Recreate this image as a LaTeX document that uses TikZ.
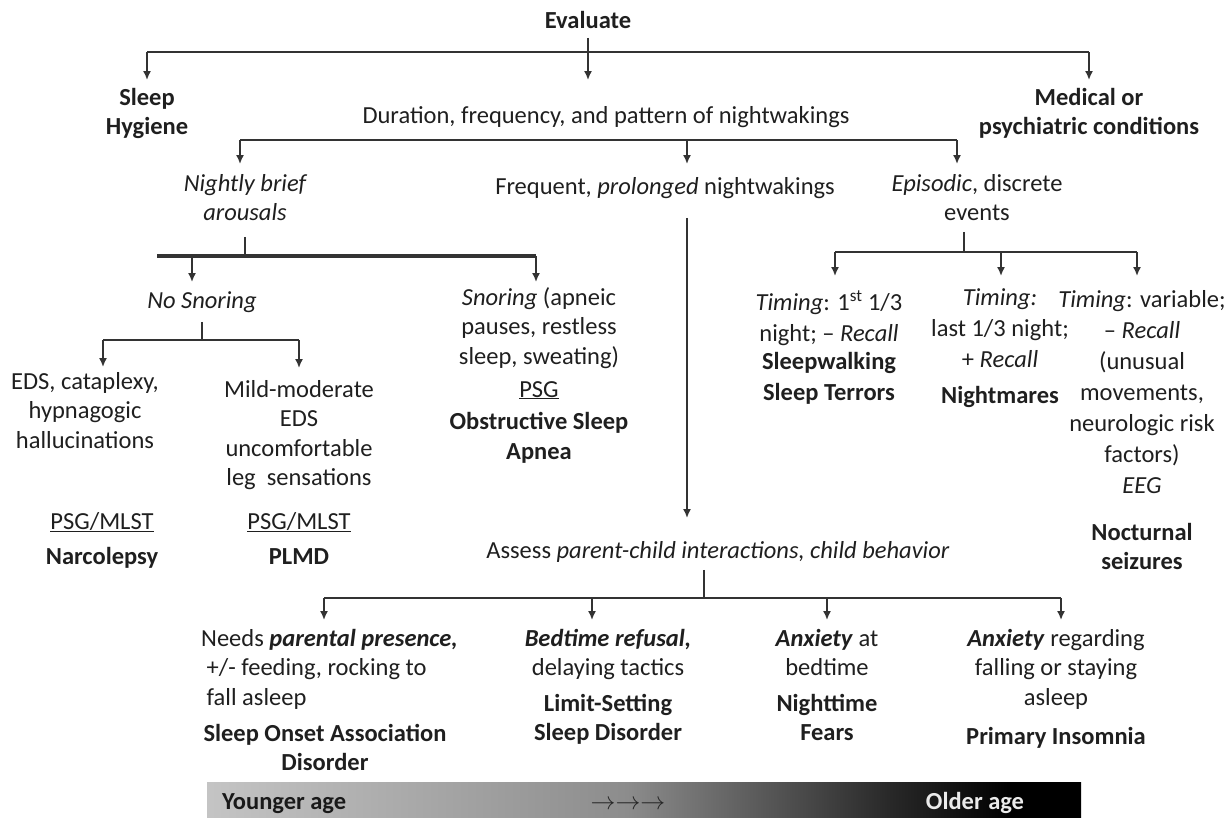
\documentclass[tikz,border=0pt]{standalone}
\usepackage{fontspec}
\setmainfont{Carlito}
\usetikzlibrary{arrows.meta}

% grey-to-black age band at the bottom (path is mapped onto 25bp--75bp)
\pgfdeclarehorizontalshading{agebar}{100bp}{color(0bp)=(black!23); color(25bp)=(black!23); color(49bp)=(black!45); color(64bp)=(black!84); color(71bp)=(black); color(100bp)=(black)}

\tikzset{
  lbl/.style={align=center, inner sep=0pt, anchor=north, text=black!88,
    font=\fontsize{24.5}{29.5}\selectfont, execute at begin node=\strut},
  res/.style={lbl, font=\fontsize{24.5}{29.5}\selectfont\bfseries},
  wide/.style={font=\fontsize{24.5}{31}\selectfont},
  link/.style={draw=black!80, line width=1.6pt},
  arr/.style={link, ->, >={Latex[length=9pt,width=8pt]}},
  agetxt/.style={inner sep=0pt, font=\fontsize{24.5}{29.5}\selectfont\bfseries},
}

\begin{document}
\begin{tikzpicture}[x=1pt, y=-1pt]
  \useasboundingbox (0,0) rectangle (1232,817);

  % first level
  \node[res] (eval) at (588,8) {Evaluate};
  \node[res] (hyg) at (147,88) {Sleep\\Hygiene};
  \node[lbl] (dur) at (606,103) {Duration, frequency, and pattern of nightwakings};
  \node[res] (med) at (1089,88) {Medical or\\psychiatric conditions};

  \coordinate (b0l) at (147,52);
  \coordinate (b0r) at (1089,52);
  \draw[link] (b0l) -- (b0r);
  \draw[arr, shorten >=8pt] (b0l) -- (b0l |- hyg.north);
  \draw[arr, shorten >=8pt] (b0r) -- (b0r |- med.north);
  \draw[arr, shorten >=23pt] (eval.south) -- (eval.south |- dur.north);

  % pattern of nightwakings
  \node[lbl, font=\fontsize{24.5}{29.5}\selectfont\itshape] (nba) at (245,174) {Nightly brief\\arousals};
  \node[lbl] (fpn) at (665,174) {Frequent, \textit{prolonged} nightwakings};
  \node[lbl] (epi) at (977,174) {\textit{Episodic}, discrete\\events};

  \coordinate (b1l) at (240,140);
  \coordinate (b1m) at (687,140);
  \coordinate (b1r) at (957,140);
  \draw[link] (b1l) -- (b1r);
  \foreach \c/\n in {b1l/nba, b1m/fpn, b1r/epi}
    \draw[arr, shorten >=10pt] (\c) -- (\c |- \n.north);

  % brief arousals
  \node[lbl] (nos) at (202,288) {\textit{No Snoring}};
  \node[lbl] (sno) at (539,287) {\textit{Snoring} (apneic\\pauses, restless\\sleep, sweating)};
  \node[lbl] (osa) at (539,381) {\underline{PSG}\\[3pt]\textbf{Obstructive Sleep}\\\textbf{Apnea}};

  \coordinate (tb) at (245,256);
  \coordinate (tb1) at (192,256);
  \coordinate (tb2) at (536,256);
  \draw[link, shorten <=7pt] (nba.south) -- (tb);
  \draw[link, line width=3.2pt] (157,256) -- (tb2);
  \draw[arr, shorten >=6pt] (tb1) -- (tb1 |- nos.north);
  \draw[arr, shorten >=5pt] (tb2) -- (tb2 |- sno.north);

  \node[lbl] (eds) at (85,372) {EDS, cataplexy,\\hypnagogic\\hallucinations};
  \node[lbl] (mild) at (299,380) {Mild-moderate\\EDS\\uncomfortable\\leg\ \ sensations};
  \node[lbl] (narc) at (102,512) {\underline{PSG/MLST}\\[6pt]\textbf{Narcolepsy}};
  \node[lbl] (plmd) at (299,512) {\underline{PSG/MLST}\\[6pt]\textbf{PLMD}};

  \coordinate (nb) at (202,340);
  \coordinate (nbl) at (103,340);
  \coordinate (nbr) at (299,340);
  \draw[link, shorten <=4pt] (nos.south) -- (nb);
  \draw[link] (nbl) -- (nbr);
  \draw[arr, shorten >=5pt] (nbl) -- (nbl |- eds.north);
  \draw[arr, shorten >=12pt] (nbr) -- (nbr |- mild.north);

  % episodic events
  \node[lbl, wide] (t1) at (829,290) {\textit{Timing}: 1\textsuperscript{st} 1/3\\night; -- \textit{Recall}};
  \node[res, wide, font=\fontsize{24.5}{31}\selectfont\bfseries] (sw) at (829,352) {Sleepwalking\\Sleep Terrors};
  \node[lbl, wide] (t2) at (1000,288) {\textit{Timing:}\\last 1/3 night;\\+ \textit{Recall}};
  \node[res] (nm) at (1000,383) {Nightmares};
  \node[lbl, wide] (t3) at (1142,290) {\textit{Timing}: variable;\\-- \textit{Recall}\\(unusual\\movements,\\neurologic risk\\factors)\\\textit{EEG}};
  \node[res] (noc) at (1142,523) {Nocturnal\\seizures};

  \coordinate (eb) at (964,252);
  \coordinate (ebl) at (835,252);
  \coordinate (ebm) at (1001,252);
  \coordinate (ebr) at (1137,252);
  \draw[link, shorten <=2pt] (eb |- epi.south) -- (eb);
  \draw[link] (ebl) -- (ebr);
  \draw[arr, shorten >=14pt] (ebl) -- (ebl |- t1.north);
  \draw[arr, shorten >=12pt] (ebm) -- (ebm |- t2.north);
  \draw[arr, shorten >=14pt] (ebr) -- (ebr |- t3.north);

  % prolonged nightwakings
  \node[lbl] (assess) at (718,538) {Assess \textit{parent-child interactions, child behavior}};
  \draw[arr, shorten <=14pt, shorten >=20pt] (b1m |- fpn.south) -- (b1m |- assess.north);

  \node[lbl, anchor=north west, align=left] (needs) at (201,629) {Needs \textbf{\textit{parental presence,}}\\\ +/- feeding, rocking to\\\ fall asleep};
  \node[res] (soa) at (325,724) {Sleep Onset Association\\Disorder};
  \node[lbl] (bed) at (608,629) {\textbf{\textit{Bedtime refusal,}}\\delaying tactics};
  \node[res] (lim) at (608,694) {Limit-Setting\\Sleep Disorder};
  \node[lbl] (anx) at (827,629) {\textbf{\textit{Anxiety}} at\\bedtime};
  \node[res] (fear) at (827,694) {Nighttime\\Fears};
  \node[lbl] (ins) at (1056,629) {\textbf{\textit{Anxiety}} regarding\\falling or staying\\asleep};
  \node[res] (pin) at (1056,724) {Primary Insomnia};

  \coordinate (ab) at (704,598);
  \coordinate (ab1) at (324,598);
  \coordinate (ab2) at (592,598);
  \coordinate (ab3) at (827,598);
  \coordinate (ab4) at (1061,598);
  \draw[link, shorten <=2pt] (ab |- assess.south) -- (ab);
  \draw[link] (ab1) -- (ab4);
  \draw[arr, shorten >=9pt] (ab1) -- (ab1 |- needs.north);
  \foreach \c/\n in {ab2/bed, ab3/anx, ab4/ins}
    \draw[arr, shorten >=9pt] (\c) -- (\c |- \n.north);

  % age band
  \shade[shading=agebar] (207,782) rectangle (1081,817);
  \node[agetxt, anchor=base west, text=black!90] (young) at (222,809) {Younger age};
  \node[agetxt, anchor=base, text=black!85, font=\fontsize{24.5}{29.5}\selectfont] (ages) at (628,809) {$\rightarrow\rightarrow\rightarrow$};
  \node[agetxt, anchor=base, text=black!8] (old) at (975,809) {Older age};
\end{tikzpicture}
\end{document}
